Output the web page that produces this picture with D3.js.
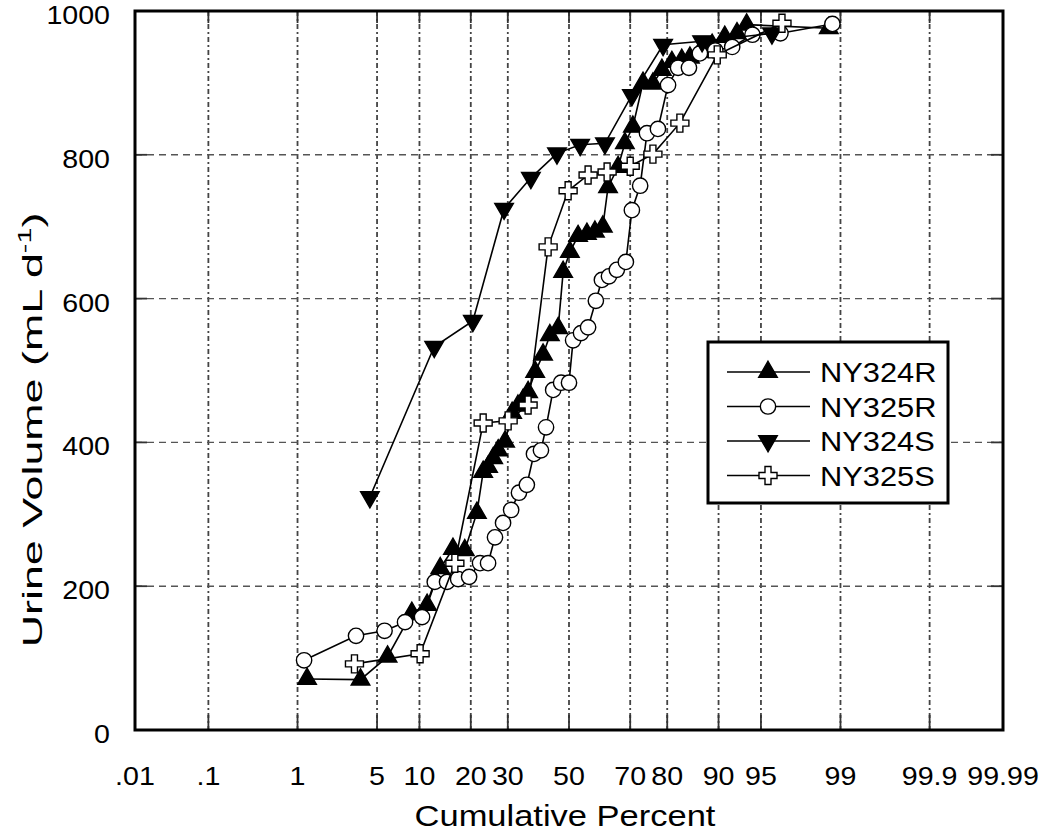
<!DOCTYPE html>
<html>
<head>
<meta charset="utf-8">
<script src="https://cdn.jsdelivr.net/npm/d3@7"></script>
<style>
  body { margin: 0; background: #fff; }
  svg { display: block; font-family: "Liberation Sans", Arial, Helvetica, sans-serif; }
</style>
</head>
<body>
<div id="chart"></div>
<script>
// ---- data (cumulative percent, urine volume mL/d) ----
var tickPercents = [0.01, 0.1, 1, 5, 10, 20, 30, 50, 70, 80, 90, 95, 99, 99.9, 99.99];
var tickLabels = [".01", ".1", "1", "5", "10", "20", "30", "50", "70", "80", "90", "95", "99", "99.9", "99.99"];
var yTicks = [0, 200, 400, 600, 800, 1000];

var ny324rPct = [1.24, 3.7, 6.0, 8.9, 11.2, 13.5, 16.0, 18.6, 21.5, 23.1, 24.4, 25.8, 27.2, 29.2, 31.3,
  33.1, 34.7, 36.3, 38.6, 41.2, 43.5, 46.3, 48.0, 50.3, 53.1, 56.1, 58.8, 61.4, 63.1, 66.3,
  68.4, 70.8, 73.7, 76.4, 78.7, 81.1, 83.3, 85.0, 86.9, 89.0, 90.9, 92.5, 93.6, 98.7];
var ny324rVol = [71, 70, 102, 163, 174, 225, 252, 250, 302, 359, 366, 378, 389, 401, 441,
  451, 459, 470, 498, 522, 549, 559, 637, 665, 687, 690, 693, 700, 755, 783,
  816, 839, 900, 899, 918, 929, 932, 935, 943, 953, 964, 969, 981, 976];

var ny325rPct = [1.16, 3.4, 5.7, 8.0, 10.4, 12.5, 14.8, 17.1, 19.6, 22.3, 24.4, 26.3, 28.6, 31.0, 33.4,
  35.9, 38.2, 40.5, 42.2, 44.6, 47.3, 50.0, 51.4, 54.1, 56.5, 59.1, 61.1, 63.4, 65.9, 68.7,
  70.5, 72.9, 74.8, 77.7, 80.2, 82.5, 84.8, 86.9, 89.5, 91.9, 94.2, 96.5, 98.8];
var ny325rVol = [97, 131, 138, 150, 157, 206, 206, 210, 213, 232, 232, 268, 288, 306, 330,
  341, 384, 389, 421, 473, 483, 483, 542, 552, 560, 597, 626, 631, 640, 651,
  723, 757, 830, 836, 897, 921, 921, 941, 945, 950, 967, 969, 982];

var ny324sPct = [4.4, 12.4, 20.5, 28.9, 37.2, 45.9, 53.8, 62.1, 70.5, 79.0, 87.3, 95.9];
var ny324sVol = [324, 533, 569, 725, 768, 802, 814, 816, 883, 953, 958, 969];

var ny325sPct = [3.3, 10.1, 16.4, 23.1, 30.1, 36.3, 42.9, 49.7, 56.5, 62.8, 70.0, 76.4, 82.9, 89.8, 96.6];
var ny325sVol = [92, 106, 232, 427, 430, 452, 672, 750, 772, 776, 784, 801, 844, 939, 983];

var seriesNames = ["NY324R", "NY325R", "NY324S", "NY325S"];

// ---- layout ----
var width = 1050, height = 833;
var plot = { left: 135, right: 1003, top: 11, bottom: 730 };

// inverse normal CDF (Acklam) for the probability axis
function probit(p) {
  var a = [-3.969683028665376e+01, 2.209460984245205e+02, -2.759285104469687e+02, 1.383577518672690e+02, -3.066479806614716e+01, 2.506628277459239e+00];
  var b = [-5.447609879822406e+01, 1.615858368580409e+02, -1.556989798598866e+02, 6.680131188771972e+01, -1.328068155288572e+01];
  var c = [-7.784894002430293e-03, -3.223964580411365e-01, -2.400758277161838e+00, -2.549732539343734e+00, 4.374664141464968e+00, 2.938163982698783e+00];
  var d = [7.784695709041462e-03, 3.224671290700398e-01, 2.445134137142996e+00, 3.754408661907416e+00];
  var pl = 0.02425, q, r;
  if (p < pl) {
    q = Math.sqrt(-2 * Math.log(p));
    return (((((c[0]*q+c[1])*q+c[2])*q+c[3])*q+c[4])*q+c[5]) / ((((d[0]*q+d[1])*q+d[2])*q+d[3])*q+1);
  }
  if (p <= 1 - pl) {
    q = p - 0.5; r = q * q;
    return (((((a[0]*r+a[1])*r+a[2])*r+a[3])*r+a[4])*r+a[5])*q / (((((b[0]*r+b[1])*r+b[2])*r+b[3])*r+b[4])*r+1);
  }
  q = Math.sqrt(-2 * Math.log(1 - p));
  return -(((((c[0]*q+c[1])*q+c[2])*q+c[3])*q+c[4])*q+c[5]) / ((((d[0]*q+d[1])*q+d[2])*q+d[3])*q+1);
}

var zScale = d3.scaleLinear()
  .domain([probit(0.0001), probit(0.9999)])
  .range([plot.left, plot.right]);
function x(pct) { return zScale(probit(pct / 100)); }

var y = d3.scaleLinear().domain([0, 1000]).range([plot.bottom, plot.top]);

var svg = d3.select('#chart').append('svg')
  .attr('width', width).attr('height', height);

// ---- grid ----
var grid = svg.append('g');
grid.selectAll('line.vgrid')
  .data(tickPercents.slice(1, -1))
  .enter().append('line')
  .attr('x1', function(d) { return x(d); })
  .attr('x2', function(d) { return x(d); })
  .attr('y1', plot.top).attr('y2', plot.bottom)
  .attr('stroke', '#444').attr('stroke-width', 1.8)
  .attr('stroke-dasharray', '5,3,2,3');

grid.selectAll('line.hgrid')
  .data(yTicks.slice(1, -1))
  .enter().append('line')
  .attr('x1', plot.left).attr('x2', plot.right)
  .attr('y1', function(d) { return y(d); })
  .attr('y2', function(d) { return y(d); })
  .attr('stroke', '#555').attr('stroke-width', 1.4)
  .attr('stroke-dasharray', '7,5');

// inside ticks
var ticks = svg.append('g').attr('stroke', '#333').attr('stroke-width', 1.8);
tickPercents.slice(1, -1).forEach(function(p) {
  ticks.append('line').attr('x1', x(p)).attr('x2', x(p)).attr('y1', plot.bottom).attr('y2', plot.bottom - 15);
  ticks.append('line').attr('x1', x(p)).attr('x2', x(p)).attr('y1', plot.top).attr('y2', plot.top + 12);
});
yTicks.slice(1, -1).forEach(function(v) {
  ticks.append('line').attr('x1', plot.left).attr('x2', plot.left + 12).attr('y1', y(v)).attr('y2', y(v));
  ticks.append('line').attr('x1', plot.right).attr('x2', plot.right - 12).attr('y1', y(v)).attr('y2', y(v));
});

// frame
svg.append('rect')
  .attr('x', plot.left).attr('y', plot.top)
  .attr('width', plot.right - plot.left).attr('height', plot.bottom - plot.top)
  .attr('fill', 'none').attr('stroke', '#000').attr('stroke-width', 3);

// ---- tick labels (the original lettering is slightly wide, hence scaleX) ----
svg.append('g').selectAll('text')
  .data(tickPercents)
  .enter().append('text')
  .attr('transform', function(d) { return 'translate(' + x(d) + ',785) scale(1.1,1)'; })
  .attr('text-anchor', 'middle')
  .attr('font-size', 26)
  .text(function(d, i) { return tickLabels[i]; });

svg.append('g').selectAll('text')
  .data(yTicks)
  .enter().append('text')
  .attr('transform', function(d) { return 'translate(110,' + (y(d) + 13) + ') scale(1.1,1)'; })
  .attr('text-anchor', 'end')
  .attr('font-size', 26)
  .text(function(d) { return d; });

// axis titles
svg.append('text')
  .attr('transform', 'translate(565,826) scale(1.15,1)')
  .attr('text-anchor', 'middle')
  .attr('font-size', 30)
  .text('Cumulative Percent');

var yt = svg.append('text')
  .attr('transform', 'translate(42,430) rotate(-90) scale(1.6,1)')
  .attr('text-anchor', 'middle')
  .attr('font-size', 28);
yt.append('tspan').text('Urine Volume (mL d');
yt.append('tspan').attr('font-size', 18).attr('dy', -11).text('-1');
yt.append('tspan').attr('dy', 11).text(')');

// ---- series ----
function symbolPath(type) {
  if (type === 'up' || type === 'down') return d3.symbol().type(d3.symbolTriangle).size(150)();
  if (type === 'circle') return d3.symbol().type(d3.symbolCircle).size(185)();
  return d3.symbol().type(d3.symbolCross).size(180)();
}

var series = [
  { name: seriesNames[0], pct: ny324rPct, vol: ny324rVol, type: 'up', fill: '#000' },
  { name: seriesNames[1], pct: ny325rPct, vol: ny325rVol, type: 'circle', fill: '#fff' },
  { name: seriesNames[2], pct: ny324sPct, vol: ny324sVol, type: 'down', fill: '#000' },
  { name: seriesNames[3], pct: ny325sPct, vol: ny325sVol, type: 'cross', fill: '#fff' }
];

var line = d3.line()
  .x(function(d) { return x(d[0]); })
  .y(function(d) { return y(d[1]); });

function markerTransform(s, px, py) {
  var t = 'translate(' + px + ',' + py + ')';
  if (s.type === 'down') t += ' rotate(180)';
  return t;
}

series.forEach(function(s) {
  var pts = s.pct.map(function(p, i) { return [p, s.vol[i]]; });
  var g = svg.append('g');
  g.append('path')
    .attr('d', line(pts))
    .attr('fill', 'none').attr('stroke', '#000').attr('stroke-width', 1.6);
  g.selectAll('path.m')
    .data(pts)
    .enter().append('path')
    .attr('d', symbolPath(s.type))
    .attr('transform', function(d) { return markerTransform(s, x(d[0]), y(d[1])); })
    .attr('fill', s.fill)
    .attr('stroke', '#000').attr('stroke-width', 1.4);
});

// ---- legend ----
var legend = svg.append('g');
legend.append('rect')
  .attr('x', 708).attr('y', 342).attr('width', 240).attr('height', 161)
  .attr('fill', '#fff').attr('stroke', '#000').attr('stroke-width', 3);
series.forEach(function(s, i) {
  var ly = 372 + i * 34.5;
  legend.append('line')
    .attr('x1', 727).attr('x2', 810).attr('y1', ly).attr('y2', ly)
    .attr('stroke', '#000').attr('stroke-width', 1.6);
  legend.append('path')
    .attr('d', symbolPath(s.type))
    .attr('transform', markerTransform(s, 768, ly))
    .attr('fill', s.fill).attr('stroke', '#000').attr('stroke-width', 1.4);
  legend.append('text')
    .attr('transform', 'translate(820,' + (ly + 10) + ') scale(1.1,1)')
    .attr('font-size', 28)
    .text(s.name);
});
</script>
</body>
</html>
